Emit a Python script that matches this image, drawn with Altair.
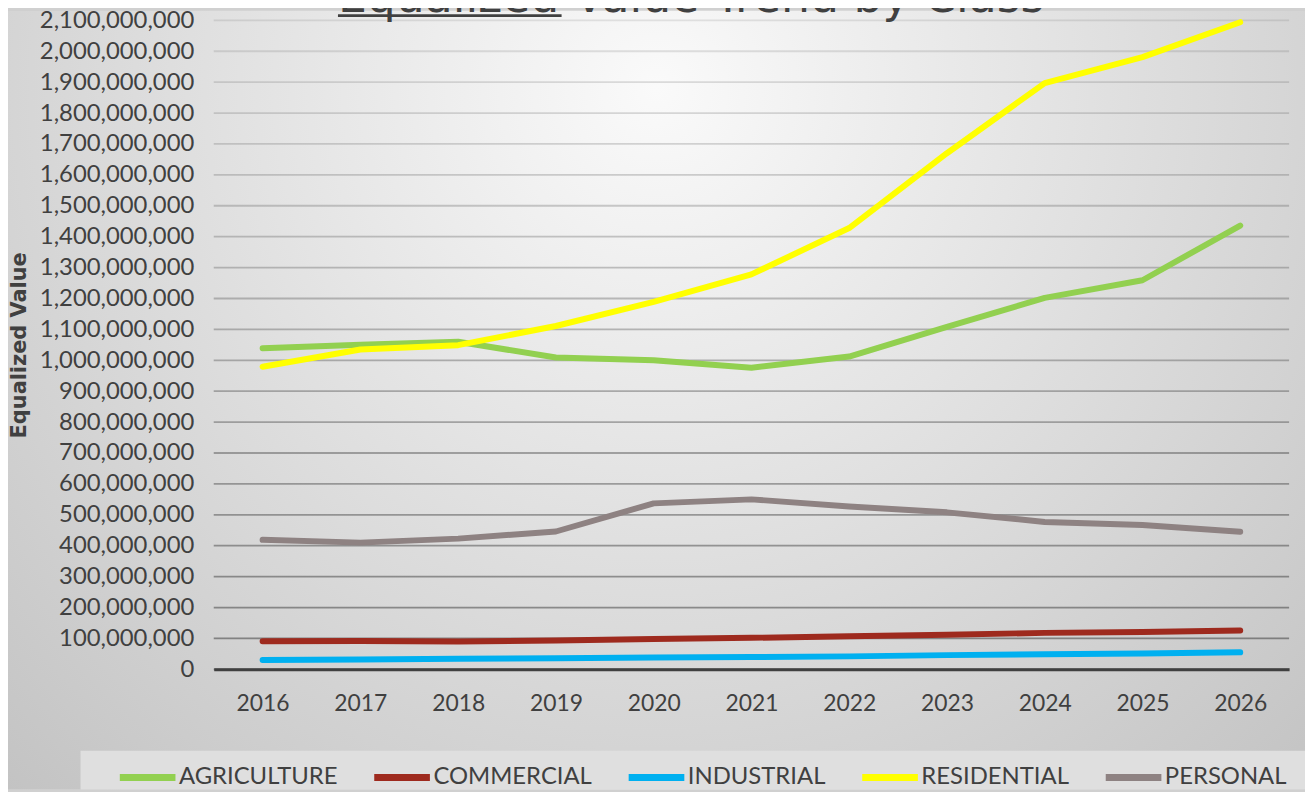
import altair as alt
import pandas as pd

# ---------------- data ----------------
years = ["2016", "2017", "2018", "2019", "2020", "2021", "2022", "2023", "2024", "2025", "2026"]

agriculture = [1039e6, 1050e6, 1060e6, 1009e6, 1000e6, 976e6, 1012e6, 1108e6, 1202e6, 1259e6, 1436e6]
commercial = [91e6, 92e6, 90e6, 93e6, 98e6, 102e6, 107e6, 112e6, 118e6, 121e6, 126e6]
industrial = [30e6, 32e6, 34e6, 36e6, 38e6, 40e6, 42e6, 46e6, 49e6, 51e6, 55e6]
residential = [979e6, 1035e6, 1049e6, 1111e6, 1189e6, 1278e6, 1428e6, 1670e6, 1897e6, 1981e6, 2094e6]
personal = [419e6, 410e6, 423e6, 446e6, 537e6, 550e6, 527e6, 508e6, 477e6, 467e6, 445e6]

series_names = ["AGRICULTURE", "COMMERCIAL", "INDUSTRIAL", "RESIDENTIAL", "PERSONAL"]
series_colors = ["#92D050", "#9E2A1E", "#00B0F0", "#FFFF00", "#8E8282"]

y_ticks = [0, 100e6, 200e6, 300e6, 400e6, 500e6, 600e6, 700e6, 800e6, 900e6, 1000e6,
           1100e6, 1200e6, 1300e6, 1400e6, 1500e6, 1600e6, 1700e6, 1800e6, 1900e6,
           2000e6, 2100e6]

title_text = "Equalized Value Trend by Class"
y_title = "Equalized Value"

# ---------------- layout ----------------
W, H = 1082, 653
PAD = {"left": 207, "top": 10, "right": 16, "bottom": 121}

rows = []
for name, vals in zip(series_names, [agriculture, commercial, industrial, residential, personal]):
    for yr, v in zip(years, vals):
        rows.append({"Year": yr, "Class": name, "Value": v})
df = pd.DataFrame(rows)

x_scale = alt.Scale(type="point", domain=years, padding=0.5)
y_scale = alt.Scale(domain=[0, 2.1e9], nice=False, zero=True)

x_axis = alt.Axis(title=None, labelAngle=0, ticks=False, grid=False, zindex=2,
                  domainColor="#404040", domainWidth=3,
                  labelFont="Lato", labelFontSize=23, labelColor="#404040",
                  labelPadding=23)
y_axis = alt.Axis(title=y_title, values=y_ticks, format=",.0f", grid=False, domain=False,
                  ticks=False, zindex=2, labelFont="Lato", labelFontSize=24,
                  labelColor="#404040", labelPadding=20,
                  titleFont="DejaVu Sans", titleFontSize=21,
                  titleFontWeight="bold", titleColor="#404040",
                  titleX=-195, titleY=H / 2, titleBaseline="middle")

legend = alt.Legend(orient="none", legendX=-98, legendY=730, direction="horizontal",
                    title=None, symbolType="stroke", symbolSize=3136, symbolStrokeWidth=7,
                    labelFont="Lato", labelFontSize=24, labelColor="#404040",
                    labelLimit=500, columnPadding=22, labelOffset=0, padding=0)

one = pd.DataFrame({"k": [0]})

bg = alt.Chart(one).mark_rect(
    fill=alt.RadialGradient(
        gradient="radial",
        stops=[alt.GradientStop(color="#FAFAFA", offset=0),
               alt.GradientStop(color="#C2C2C2", offset=1)],
        x1=0.5, y1=0.26, r1=0, x2=0.5, y2=0.26, r2=0.75)
).encode(x=alt.value(-PAD["left"]), x2=alt.value(W + PAD["right"]),
         y=alt.value(-PAD["top"]), y2=alt.value(H + PAD["bottom"]))

legend_box = alt.Chart(one).mark_rect(fill="#DFDFDF").encode(
    x=alt.value(-134), x2=alt.value(W + PAD["right"]),
    y=alt.value(735), y2=alt.value(H + PAD["bottom"]))

grid = alt.Chart(pd.DataFrame({"t": y_ticks})).mark_rule(color="#3a3a3a", strokeWidth=1.8).encode(
    y=alt.Y("t:Q", scale=y_scale, axis=y_axis),
    opacity=alt.Opacity("t:Q", scale=alt.Scale(domain=[0, 2.1e9], range=[0.55, 0.12]), legend=None))

lines = alt.Chart(df).mark_line(strokeWidth=6, strokeCap="round", strokeJoin="round").encode(
    x=alt.X("Year:N", scale=x_scale, sort=years, axis=x_axis),
    y=alt.Y("Value:Q", scale=y_scale, axis=y_axis),
    color=alt.Color("Class:N", scale=alt.Scale(domain=series_names, range=series_colors),
                    sort=series_names, legend=legend))

title = alt.Chart(pd.DataFrame({"t": [title_text]})).mark_text(
    align="left", baseline="alphabetic", font="DejaVu Sans", fontSize=46, color="#404040"
).encode(text="t:N", x=alt.value(125), y=alt.value(-8))

underline = alt.Chart(one).mark_rule(color="#404040", strokeWidth=2.7).encode(
    x=alt.value(125), x2=alt.value(350), y=alt.value(-4.7))

chart = alt.layer(bg, legend_box, grid, lines, title, underline).properties(
    width=W, height=H, padding=PAD, autosize=alt.AutoSizeParams(type="none")
).configure_view(stroke=None).configure(background="#D0D0D0")

chart.save("out.html", embed_options={"renderer": "svg", "actions": False})
